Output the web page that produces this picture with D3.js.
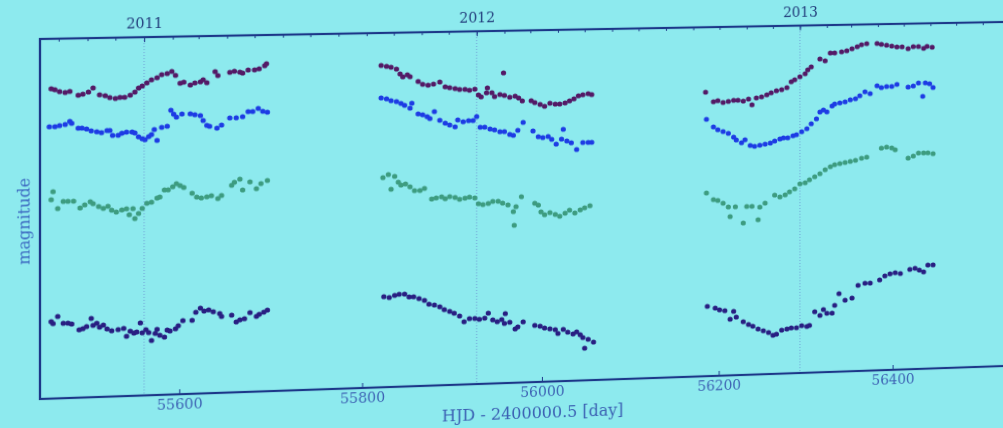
<!DOCTYPE html>
<html>
<head>
<meta charset="utf-8">
<script src="https://cdn.jsdelivr.net/npm/d3@7"></script>
<style>
  html, body { margin: 0; padding: 0; width: 1003px; height: 428px; overflow: hidden; background: #8deaee; }
  #chart { position: absolute; left: 0; top: 0; transform-origin: 0 0; filter: blur(0.5px); }
  text { font-family: "DejaVu Serif", serif; }
</style>
</head>
<body>
<svg id="chart" width="1060" height="470"></svg>
<script>
// light curves [HJD - 2400000.5, magnitude]
const seriesA = [
  [55462,16.50],[55466,16.51],[55471,16.53],[55477,16.54],[55482,16.53],[55491,16.57],[55496,16.56],[55502,16.54],[55507,16.50],[55514,16.57],[55520,16.58],[55525,16.60],[55531,16.61],[55536,16.60],[55541,16.60],[55547,16.58],[55552,16.55],[55556,16.51],[55560,16.49],[55565,16.46],[55570,16.43],[55576,16.41],[55581,16.38],[55587,16.37],[55592,16.35],[55596,16.39],[55601,16.47],[55605,16.46],[55612,16.49],[55617,16.47],[55623,16.46],[55626,16.44],[55630,16.47],[55639,16.36],[55642,16.40],[55655,16.37],[55660,16.36],[55666,16.37],[55669,16.38],[55675,16.35],[55682,16.35],[55687,16.34],[55693,16.31],[55695,16.29],
  [55821,16.33],[55827,16.34],[55832,16.35],[55838,16.37],[55842,16.42],[55845,16.45],[55850,16.43],[55853,16.45],[55862,16.50],[55867,16.53],[55873,16.54],[55879,16.53],[55886,16.51],[55892,16.56],[55897,16.57],[55903,16.58],[55908,16.59],[55914,16.59],[55919,16.60],[55925,16.59],[55929,16.65],[55932,16.67],[55938,16.63],[55939,16.58],[55944,16.63],[55947,16.67],[55953,16.65],[55957,16.43],[55958,16.66],[55964,16.68],[55970,16.67],[55974,16.69],[55978,16.72],[55988,16.72],[55992,16.74],[55998,16.76],[56003,16.78],[56009,16.75],[56015,16.76],[56020,16.76],[56026,16.75],[56031,16.73],[56036,16.71],[56041,16.68],[56046,16.67],[56052,16.66],[56056,16.67],
  [56185,16.67],[56194,16.77],[56199,16.76],[56205,16.78],[56211,16.77],[56217,16.76],[56222,16.76],[56228,16.77],[56234,16.75],[56238,16.81],[56243,16.74],[56249,16.73],[56255,16.71],[56260,16.69],[56266,16.67],[56272,16.66],[56278,16.64],[56283,16.58],[56287,16.56],[56293,16.53],[56299,16.50],[56302,16.46],[56306,16.43],[56316,16.35],[56322,16.37],[56328,16.29],[56333,16.29],[56341,16.28],[56347,16.27],[56353,16.25],[56359,16.23],[56364,16.21],[56370,16.20],[56382,16.20],[56387,16.21],[56393,16.22],[56399,16.23],[56405,16.24],[56411,16.24],[56418,16.26],[56424,16.24],[56430,16.24],[56436,16.26],[56440,16.24],[56446,16.25]
];
const seriesB = [
  [55460,16.88],[55466,16.88],[55471,16.87],[55477,16.86],[55482,16.83],[55484,16.85],[55491,16.90],[55495,16.90],[55500,16.91],[55505,16.93],[55511,16.94],[55516,16.95],[55522,16.93],[55525,16.93],[55528,16.98],[55534,16.98],[55538,16.96],[55543,16.95],[55549,16.95],[55552,16.96],[55556,17.00],[55560,17.02],[55563,17.03],[55567,17.00],[55570,16.98],[55573,16.93],[55576,17.04],[55581,16.91],[55587,16.90],[55591,16.74],[55594,16.78],[55597,16.81],[55603,16.78],[55612,16.78],[55617,16.79],[55623,16.80],[55626,16.85],[55630,16.90],[55633,16.91],[55641,16.93],[55646,16.90],[55655,16.83],[55662,16.83],[55669,16.82],[55675,16.77],[55680,16.77],[55686,16.74],[55691,16.77],[55696,16.78],
  [55821,16.66],[55827,16.67],[55832,16.69],[55838,16.70],[55843,16.72],[55847,16.74],[55853,16.77],[55855,16.72],[55862,16.83],[55867,16.84],[55872,16.86],[55875,16.88],[55880,16.81],[55886,16.90],[55892,16.93],[55897,16.95],[55903,16.97],[55906,16.90],[55912,16.92],[55918,16.91],[55923,16.91],[55927,16.87],[55931,16.98],[55936,16.98],[55942,17.00],[55947,17.01],[55953,17.03],[55958,17.03],[55964,17.06],[55968,17.07],[55973,17.02],[55979,16.94],[55990,17.03],[55996,17.09],[56001,17.10],[56007,17.09],[56011,17.12],[56016,17.17],[56022,17.12],[56024,17.02],[56028,17.14],[56033,17.16],[56039,17.23],[56046,17.16],[56052,17.16],[56056,17.16],
  [56186,16.95],[56194,17.03],[56199,17.06],[56205,17.08],[56211,17.10],[56217,17.14],[56220,17.17],[56226,17.20],[56230,17.17],[56236,17.23],[56241,17.24],[56247,17.23],[56253,17.22],[56259,17.21],[56264,17.19],[56270,17.17],[56274,17.16],[56279,17.16],[56285,17.14],[56289,17.13],[56295,17.10],[56301,17.07],[56306,17.02],[56312,16.97],[56316,16.90],[56320,16.88],[56324,16.90],[56330,16.84],[56333,16.82],[56339,16.81],[56345,16.80],[56351,16.78],[56357,16.77],[56362,16.74],[56368,16.70],[56374,16.72],[56382,16.64],[56387,16.66],[56393,16.65],[56399,16.65],[56405,16.63],[56418,16.66],[56424,16.65],[56430,16.62],[56435,16.76],[56438,16.62],[56443,16.63],[56447,16.67]
];
const seriesC = [
  [55462,17.61],[55464,17.53],[55469,17.70],[55475,17.63],[55480,17.63],[55486,17.63],[55493,17.70],[55498,17.67],[55504,17.64],[55507,17.66],[55513,17.69],[55518,17.71],[55523,17.69],[55527,17.73],[55532,17.75],[55538,17.73],[55543,17.72],[55546,17.78],[55550,17.72],[55552,17.82],[55556,17.77],[55560,17.72],[55565,17.67],[55570,17.66],[55576,17.62],[55579,17.61],[55584,17.54],[55588,17.54],[55593,17.51],[55597,17.48],[55601,17.50],[55605,17.52],[55614,17.58],[55619,17.62],[55624,17.63],[55630,17.62],[55635,17.61],[55642,17.64],[55646,17.61],[55657,17.51],[55660,17.48],[55666,17.45],[55669,17.56],[55677,17.48],[55684,17.55],[55689,17.50],[55696,17.47],
  [55823,17.47],[55829,17.44],[55832,17.59],[55836,17.46],[55840,17.52],[55843,17.55],[55848,17.54],[55853,17.57],[55858,17.61],[55864,17.61],[55869,17.59],[55877,17.70],[55882,17.69],[55888,17.68],[55892,17.70],[55897,17.68],[55903,17.69],[55908,17.71],[55914,17.70],[55919,17.69],[55925,17.70],[55929,17.76],[55934,17.77],[55940,17.76],[55945,17.74],[55951,17.74],[55956,17.76],[55962,17.78],[55968,17.85],[55969,17.99],[55971,17.80],[55977,17.70],[55992,17.77],[55996,17.79],[55999,17.86],[56003,17.89],[56009,17.87],[56015,17.89],[56020,17.91],[56026,17.88],[56031,17.85],[56037,17.88],[56043,17.85],[56048,17.83],[56054,17.81],
  [56186,17.71],[56194,17.78],[56199,17.79],[56205,17.82],[56211,17.86],[56213,17.96],[56219,17.86],[56228,18.03],[56232,17.86],[56238,17.86],[56245,18.00],[56247,17.87],[56253,17.83],[56264,17.75],[56270,17.77],[56276,17.75],[56281,17.72],[56287,17.69],[56293,17.64],[56299,17.63],[56304,17.60],[56310,17.57],[56316,17.54],[56322,17.50],[56328,17.47],[56333,17.45],[56339,17.44],[56345,17.43],[56351,17.42],[56357,17.41],[56364,17.39],[56370,17.38],[56387,17.29],[56393,17.28],[56399,17.29],[56403,17.31],[56418,17.40],[56424,17.38],[56430,17.35],[56436,17.35],[56441,17.35],[56447,17.36]
];
const seriesD = [
  [55462,18.83],[55464,18.85],[55469,18.78],[55475,18.85],[55480,18.85],[55484,18.86],[55492,18.92],[55496,18.91],[55500,18.89],[55505,18.81],[55507,18.88],[55511,18.86],[55514,18.90],[55518,18.88],[55522,18.92],[55527,18.94],[55534,18.93],[55540,18.92],[55543,19.00],[55547,18.95],[55551,18.97],[55554,18.96],[55558,18.87],[55560,18.97],[55564,18.94],[55567,18.97],[55570,19.05],[55574,18.98],[55576,18.94],[55579,19.00],[55584,19.02],[55587,18.95],[55590,18.96],[55596,18.94],[55599,18.91],[55604,18.86],[55614,18.86],[55618,18.78],[55623,18.74],[55627,18.77],[55632,18.76],[55637,18.78],[55644,18.80],[55646,18.83],[55657,18.82],[55662,18.89],[55666,18.87],[55671,18.86],[55677,18.80],[55684,18.84],[55687,18.82],[55692,18.80],[55696,18.78],
  [55824,18.68],[55830,18.69],[55836,18.67],[55841,18.66],[55847,18.66],[55852,18.69],[55857,18.69],[55863,18.71],[55869,18.73],[55874,18.77],[55880,18.78],[55886,18.80],[55891,18.83],[55897,18.85],[55902,18.87],[55908,18.90],[55913,18.96],[55919,18.93],[55925,18.93],[55930,18.94],[55936,18.93],[55940,18.88],[55945,18.95],[55950,18.97],[55955,18.95],[55958,18.99],[55959,18.89],[55964,18.98],[55970,19.05],[55973,19.03],[55979,18.98],[55992,19.02],[55998,19.03],[56003,19.05],[56009,19.06],[56015,19.07],[56018,19.11],[56024,19.07],[56029,19.10],[56035,19.12],[56039,19.10],[56043,19.13],[56046,19.16],[56048,19.27],[56052,19.18],[56058,19.21],
  [56187,18.88],[56196,18.90],[56201,18.92],[56207,18.93],[56213,19.02],[56217,18.94],[56220,19.00],[56228,19.05],[56234,19.08],[56239,19.10],[56245,19.13],[56251,19.15],[56257,19.17],[56262,19.20],[56266,19.19],[56272,19.15],[56278,19.14],[56283,19.13],[56289,19.13],[56295,19.11],[56301,19.12],[56304,19.11],[56310,18.97],[56316,19.01],[56320,18.95],[56324,18.99],[56330,18.99],[56333,18.91],[56338,18.79],[56345,18.86],[56353,18.84],[56360,18.71],[56368,18.69],[56374,18.69],[56385,18.66],[56391,18.62],[56397,18.60],[56403,18.59],[56409,18.60],[56420,18.56],[56426,18.55],[56431,18.57],[56436,18.59],[56441,18.52],[56447,18.52]
];
const seriesColors = ["#531a66", "#1d3ce4", "#3d9c80", "#281f82"];
const xTicks = [55600, 55800, 56000, 56200, 56400];
const yearTicks = [55562, 55927, 56293];
const yearLabels = ["2011", "2012", "2013"];

const svg = d3.select("#chart");
const plotLeft = 40, plotTop = 39, plotRight = 1013, plotBottom = 399;

const x = d3.scaleLinear().domain([55450, 56540]).range([plotLeft, plotRight]);
const y = d3.scaleLinear().domain([16.0, 19.6]).range([plotTop, plotBottom]);

// year grid (dotted)
svg.append("g").selectAll("line").data(yearTicks).join("line")
    .attr("x1", d => x(d)).attr("x2", d => x(d)).attr("y1", plotTop).attr("y2", plotBottom)
    .attr("stroke", "#6f9fd6").attr("stroke-width", 1).attr("stroke-dasharray", "1,2");

// points
[seriesD, seriesC, seriesB, seriesA].forEach((s, i) => {
    const col = seriesColors[3 - i];
    svg.append("g").selectAll("circle").data(s).join("circle")
        .attr("cx", d => x(d[0])).attr("cy", d => y(d[1])).attr("r", 2.6)
        .attr("fill", col);
});

// bottom axis
const gx = svg.append("g").attr("transform", `translate(0,${plotBottom})`)
    .call(d3.axisBottom(x).tickValues(xTicks).tickFormat(d3.format("d"))
        .tickSizeInner(-5).tickSizeOuter(0).tickPadding(5));
gx.select(".domain").remove();
gx.selectAll("line").attr("stroke", "#1f3a8c");
gx.selectAll("text").attr("fill", "#3d63b4").style("font-size", "14px").style("font-family", "DejaVu Serif");

// top axis: months + years
const mjd = dt => (dt - Date.UTC(1858, 10, 17)) / 86400000;
const months = d3.utcMonth.range(new Date(Date.UTC(2010, 9, 1)), new Date(Date.UTC(2013, 9, 1))).map(mjd)
    .filter(d => d > 55450 && d < 56540);
const gt = svg.append("g").attr("transform", `translate(0,${plotTop})`)
    .call(d3.axisTop(x).tickValues(months).tickFormat("").tickSizeInner(-3).tickSizeOuter(0));
gt.select(".domain").remove();
gt.selectAll("line").attr("stroke", "#1f3a8c");
const gy = svg.append("g").attr("transform", `translate(0,${plotTop})`)
    .call(d3.axisTop(x).tickValues(yearTicks).tickFormat((d, i) => yearLabels[i])
        .tickSizeInner(-5).tickSizeOuter(0).tickPadding(9));
gy.select(".domain").remove();
gy.selectAll("line").attr("stroke", "#1f3a8c");
gy.selectAll("text").attr("fill", "#203a7a").style("font-size", "14px").style("font-family", "DejaVu Serif");

// frame
svg.append("rect").attr("x", plotLeft).attr("y", plotTop)
    .attr("width", plotRight - plotLeft).attr("height", plotBottom - plotTop)
    .attr("fill", "none").attr("stroke", "#1c3788").attr("stroke-width", 2.2);

// axis titles
svg.append("text").attr("x", 522).attr("y", 436).attr("text-anchor", "middle")
    .attr("fill", "#3a5fb2").style("font-size", "16px").text("HJD - 2400000.5 [day]");
svg.append("text").attr("transform", "translate(30,221) rotate(-90)").attr("text-anchor", "middle")
    .attr("fill", "#3a66c0").style("font-size", "16px").text("magnitude");

// the photo was taken at an angle: map the flat plot rect onto the skewed quad
function squareToQuad(q) {
    const [[x0, y0], [x1, y1], [x2, y2], [x3, y3]] = q;
    const dx1 = x1 - x2, dx2 = x3 - x2, dx3 = x0 - x1 + x2 - x3;
    const dy1 = y1 - y2, dy2 = y3 - y2, dy3 = y0 - y1 + y2 - y3;
    const den = dx1 * dy2 - dx2 * dy1;
    const g = (dx3 * dy2 - dx2 * dy3) / den, h = (dx1 * dy3 - dx3 * dy1) / den;
    return [[x1 - x0 + g * x1, x3 - x0 + h * x3, x0], [y1 - y0 + g * y1, y3 - y0 + h * y3, y0], [g, h, 1]];
}
const W = 963, H = 360;
const P = squareToQuad([[40, 39], [1003, 22], [1003, 366], [40, 399]]);
const M = P.map(r => [r[0] / W, r[1] / H, -r[0] * 40 / W - r[1] * 39 / H + r[2]]);
document.getElementById("chart").style.transform =
    `matrix3d(${M[0][0]},${M[1][0]},0,${M[2][0]},${M[0][1]},${M[1][1]},0,${M[2][1]},0,0,1,0,${M[0][2]},${M[1][2]},0,${M[2][2]})`;
</script>
</body>
</html>
